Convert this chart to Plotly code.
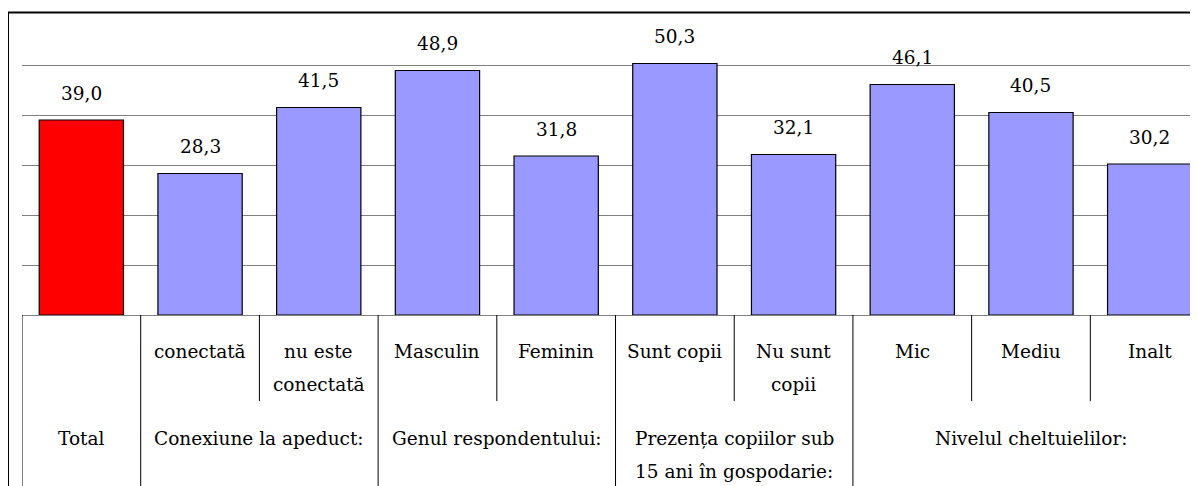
import plotly.graph_objects as go

# date
categorii = ["Total", "conectată", "nu este conectată", "Masculin", "Feminin",
             "Sunt copii", "Nu sunt copii", "Mic", "Mediu", "Inalt"]
valori = [39.0, 28.3, 41.5, 48.9, 31.8, 50.3, 32.1, 46.1, 40.5, 30.2]
etichete_valori = ["39,0", "28,3", "41,5", "48,9", "31,8", "50,3", "32,1", "46,1", "40,5", "30,2"]
culori = ["#FF0000"] + ["#9999FF"] * 9

# randul 1 al tabelului (subcategorii, pe linii)
subcategorii = [[""], ["conectată"], ["nu este", "conectată"], ["Masculin"], ["Feminin"],
                ["Sunt copii"], ["Nu sunt", "copii"], ["Mic"], ["Mediu"], ["Inalt"]]
# randul 2 (grupuri)
grupuri = [["Total"], ["Conexiune la apeduct:"], ["Genul respondentului:"],
           ["Prezența copiilor sub", "15 ani în gospodarie:"], ["Nivelul cheltuielilor:"]]
marime_grupuri = [1, 2, 2, 2, 3]

FONT = "DejaVu Serif"
FS = 18.5
x = list(range(len(categorii)))

fig = go.Figure(go.Bar(
    x=x,
    y=valori,
    marker=dict(color=culori, line=dict(color="#000000", width=1.2)),
    hoverinfo="skip",
))

# etichete valori deasupra barelor
for xi, v, t in zip(x, valori, etichete_valori):
    fig.add_annotation(x=xi, y=v, text=t, showarrow=False, yanchor="middle",
                       yshift=27, font=dict(family=FONT, size=FS, color="#000"))

# pozitii verticale (paper) ale tabelului
y_rand1 = [-0.123, -0.233]
y_rand2 = [-0.413, -0.523]
y_scurt = -0.287
y_jos = -0.6

# linii verticale: intre subcategorii (scurte) si intre grupuri (pana jos)
limite_grup = [-0.5]
acc = -0.5
for m in marime_grupuri:
    acc += m
    limite_grup.append(acc)
for i in range(len(categorii) + 1):
    b = i - 0.5
    jos = y_jos if b in limite_grup else y_scurt
    fig.add_shape(type="line", xref="x", yref="paper", x0=b, x1=b, y0=0, y1=jos,
                  line=dict(color="#000000", width=1))

for xi, linii in zip(x, subcategorii):
    for yy, t in zip(y_rand1, linii):
        if t:
            fig.add_annotation(x=xi, y=yy, xref="x", yref="paper", text=t, showarrow=False,
                               yanchor="middle", font=dict(family=FONT, size=FS, color="#000"))

for k, linii in enumerate(grupuri):
    centru = (limite_grup[k] + limite_grup[k + 1]) / 2
    for yy, t in zip(y_rand2, linii):
        fig.add_annotation(x=centru, y=yy, xref="x", yref="paper", text=t, showarrow=False,
                           yanchor="middle", font=dict(family=FONT, size=FS, color="#000"))

# chenar exterior (stanga + sus)
fig.add_shape(type="line", xref="paper", yref="paper", x0=-0.0119, x1=-0.0119, y0=y_jos, y1=1.0085,
              line=dict(color="#000000", width=2))
fig.add_shape(type="line", xref="paper", yref="paper", x0=-0.0119, x1=1.05, y0=1.0085, y1=1.0085,
              line=dict(color="#000000", width=2))

# pagina are margine de 8px, deci figura e mai mica cu 8px
fig.update_layout(
    width=1190,
    height=478,
    margin=dict(l=14, r=0, t=7, b=171),
    font=dict(family=FONT),
    paper_bgcolor="white",
    plot_bgcolor="white",
    bargap=0.29,
    showlegend=False,
    xaxis=dict(range=[-0.5, 9.407], showticklabels=False, showgrid=False, zeroline=False,
               showline=True, linecolor="#808080", linewidth=1, fixedrange=True),
    yaxis=dict(range=[0, 60], dtick=10, showticklabels=False, showgrid=True,
               gridcolor="#808080", gridwidth=1, zeroline=False, fixedrange=True),
)

fig.write_html("out.html", config={"displayModeBar": False})
